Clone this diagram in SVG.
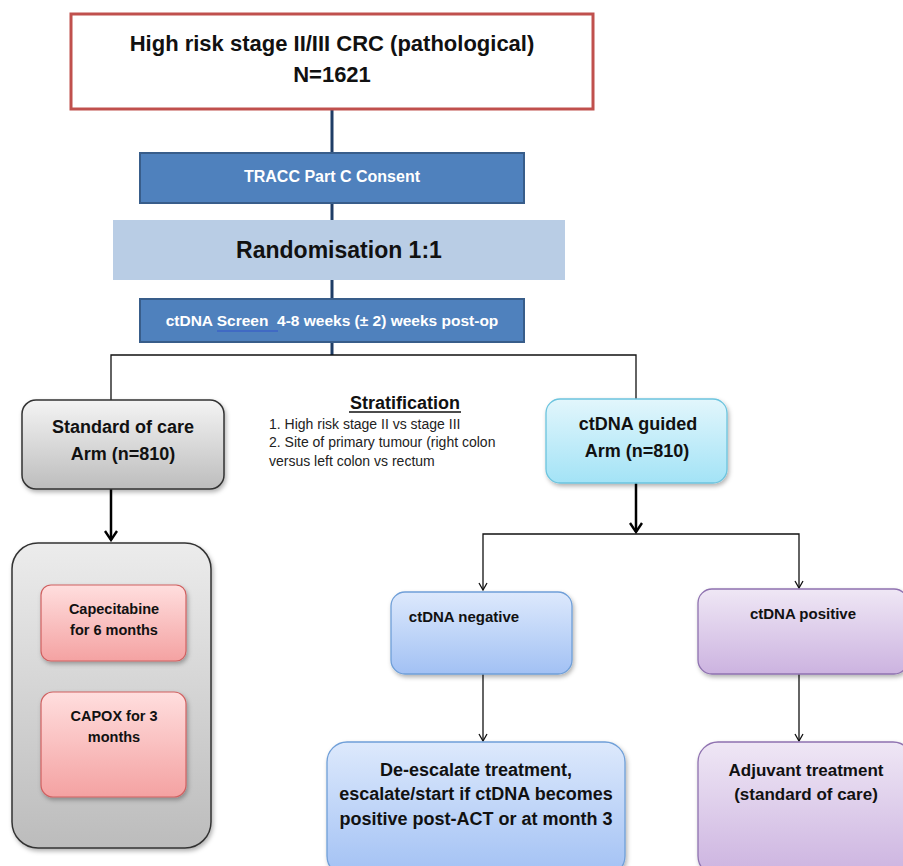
<svg xmlns="http://www.w3.org/2000/svg" width="903" height="866" viewBox="0 0 903 866">
<defs>
<style>
text{font-family:"Liberation Sans",Arial,sans-serif;font-weight:bold;text-anchor:middle;fill:#111}
.w{fill:#fff}
.reg{font-weight:normal;text-anchor:start;fill:#222}
.thin{stroke:#111;stroke-width:1.3;fill:none}
.thick{stroke:#000;stroke-width:2.5;fill:none}
.blue{stroke:#1f3d66;stroke-width:3;fill:none}
</style>
<linearGradient id="gGrey" x1="0" y1="0" x2="0" y2="1"><stop offset="0" stop-color="#f4f4f4"/><stop offset="1" stop-color="#bdbdbd"/></linearGradient>
<linearGradient id="gGrey2" x1="0" y1="0" x2="0" y2="1"><stop offset="0" stop-color="#ececec"/><stop offset="1" stop-color="#bcbcbc"/></linearGradient>
<linearGradient id="gCyan" x1="0" y1="0" x2="0" y2="1"><stop offset="0" stop-color="#e2f6fc"/><stop offset="1" stop-color="#a3e3f6"/></linearGradient>
<linearGradient id="gBlue" x1="0" y1="0" x2="0" y2="1"><stop offset="0" stop-color="#dde9fc"/><stop offset="1" stop-color="#a2c1f4"/></linearGradient>
<linearGradient id="gPurple" x1="0" y1="0" x2="0" y2="1"><stop offset="0" stop-color="#efe7f5"/><stop offset="1" stop-color="#ccb3e0"/></linearGradient>
<linearGradient id="gPink" x1="0" y1="0" x2="0" y2="1"><stop offset="0" stop-color="#ffdede"/><stop offset="1" stop-color="#f4a2a2"/></linearGradient>
<filter id="sh" x="-10%" y="-10%" width="125%" height="130%"><feDropShadow dx="1.5" dy="2.5" stdDeviation="2" flood-color="#000" flood-opacity="0.3"/></filter>
<marker id="aThick" viewBox="0 0 14 14" refX="12" refY="7" markerWidth="14" markerHeight="14" markerUnits="userSpaceOnUse" orient="auto-start-reverse"><path d="M3,1 L12,7 L3,13" fill="none" stroke="#000" stroke-width="2.4"/></marker>
<marker id="aThin" viewBox="0 0 10 10" refX="9" refY="5" markerWidth="10" markerHeight="10" markerUnits="userSpaceOnUse" orient="auto-start-reverse"><path d="M2,1 L9,5 L2,9" fill="none" stroke="#111" stroke-width="1.3"/></marker>
</defs>
<rect width="903" height="866" fill="#fff"/>

<g id="connectors">
<line class="blue" x1="332" y1="109" x2="332" y2="355"/>
<polyline class="thin" points="111,400 111,355 636,355 636,399"/>
<line class="thick" x1="111" y1="489" x2="111" y2="540" marker-end="url(#aThick)"/>
<line class="thick" x1="636" y1="483" x2="636" y2="532" marker-end="url(#aThick)"/>
<polyline class="thin" points="483,590 483,534 799,534 799,588" marker-start="url(#aThin)" marker-end="url(#aThin)"/>
<line class="thin" x1="483" y1="674" x2="483" y2="741" marker-end="url(#aThin)"/>
<line class="thin" x1="799" y1="674" x2="799" y2="741" marker-end="url(#aThin)"/>
</g>

<g id="n-top">
<rect x="71" y="14" width="522" height="95" fill="#fff" stroke="#c0504d" stroke-width="3"/>
<text x="332" y="51" font-size="22">High risk stage II/III CRC (pathological)</text>
<text x="332" y="82" font-size="22">N=1621</text>
</g>

<g id="n-consent">
<rect x="140" y="153" width="384" height="50" fill="#4f81bd" stroke="#385d8a" stroke-width="2"/>
<text class="w" x="332" y="182" font-size="16">TRACC Part C Consent</text>
</g>

<g id="n-random">
<rect x="113" y="220" width="452" height="60" fill="#b9cde5"/>
<text x="339" y="258" font-size="23">Randomisation 1:1</text>
</g>

<g id="n-screen">
<rect x="140" y="299" width="384" height="43" fill="#4f81bd" stroke="#385d8a" stroke-width="2"/>
<text class="w" x="332" y="326" font-size="15.5" style="white-space:pre">ctDNA Screen  4-8 weeks (± 2) weeks post-op</text>
<line x1="217" y1="331" x2="278" y2="331" stroke="#3355cc" stroke-width="1.2"/>
</g>

<g id="n-soc">
<rect x="22" y="400" width="202" height="89" rx="14" fill="url(#gGrey)" stroke="#333" stroke-width="1.5" filter="url(#sh)"/>
<text x="123" y="433" font-size="18">Standard of care</text>
<text x="123" y="460" font-size="18">Arm (n=810)</text>
</g>

<g id="n-strat">
<text x="405" y="409" font-size="18">Stratification</text>
<line x1="349" y1="412" x2="461" y2="412" stroke="#111" stroke-width="1.3"/>
<text class="reg" x="269" y="429" font-size="14">1. High risk stage II vs stage III</text>
<text class="reg" x="269" y="447" font-size="14">2. Site of primary tumour (right colon</text>
<text class="reg" x="269" y="466" font-size="14">versus left colon vs rectum</text>
</g>

<g id="n-guided">
<rect x="546" y="399" width="181" height="84" rx="14" fill="url(#gCyan)" stroke="#6cc4de" stroke-width="1.3" filter="url(#sh)"/>
<text x="638" y="430" font-size="18">ctDNA guided</text>
<text x="637" y="457" font-size="18">Arm (n=810)</text>
</g>

<g id="n-socarms">
<rect x="12" y="543" width="199" height="305" rx="26" fill="url(#gGrey2)" stroke="#333" stroke-width="1.5" filter="url(#sh)"/>
</g>

<g id="n-cape">
<rect x="41" y="585" width="145" height="76" rx="10" fill="url(#gPink)" stroke="#d06060" stroke-width="1.2" filter="url(#sh)"/>
<text x="114" y="614" font-size="14.5">Capecitabine</text>
<text x="114" y="635" font-size="14.5">for 6 months</text>
</g>

<g id="n-capox">
<rect x="41" y="692" width="145" height="105" rx="12" fill="url(#gPink)" stroke="#d06060" stroke-width="1.2" filter="url(#sh)"/>
<text x="114" y="721" font-size="14.5">CAPOX for 3</text>
<text x="114" y="742" font-size="14.5">months</text>
</g>

<g id="n-neg">
<rect x="391" y="592" width="181" height="82" rx="14" fill="url(#gBlue)" stroke="#6f9fd8" stroke-width="1.3" filter="url(#sh)"/>
<text x="464" y="622" font-size="15">ctDNA negative</text>
</g>

<g id="n-pos">
<rect x="698" y="589" width="210" height="85" rx="14" fill="url(#gPurple)" stroke="#8f72b0" stroke-width="1.3" filter="url(#sh)"/>
<text x="803" y="619" font-size="15">ctDNA positive</text>
</g>

<g id="n-deesc">
<rect x="327" y="742" width="298" height="134" rx="20" fill="url(#gBlue)" stroke="#6f9fd8" stroke-width="1.3" filter="url(#sh)"/>
<text x="476" y="776" font-size="18">De-escalate treatment,</text>
<text x="476" y="800" font-size="18">escalate/start if ctDNA becomes</text>
<text x="476" y="825" font-size="18">positive post-ACT or at month 3</text>
</g>

<g id="n-adj">
<rect x="698" y="742" width="215" height="134" rx="20" fill="url(#gPurple)" stroke="#8f72b0" stroke-width="1.3" filter="url(#sh)"/>
<text x="806" y="776" font-size="17">Adjuvant treatment</text>
<text x="806" y="800" font-size="17">(standard of care)</text>
</g>
</svg>
